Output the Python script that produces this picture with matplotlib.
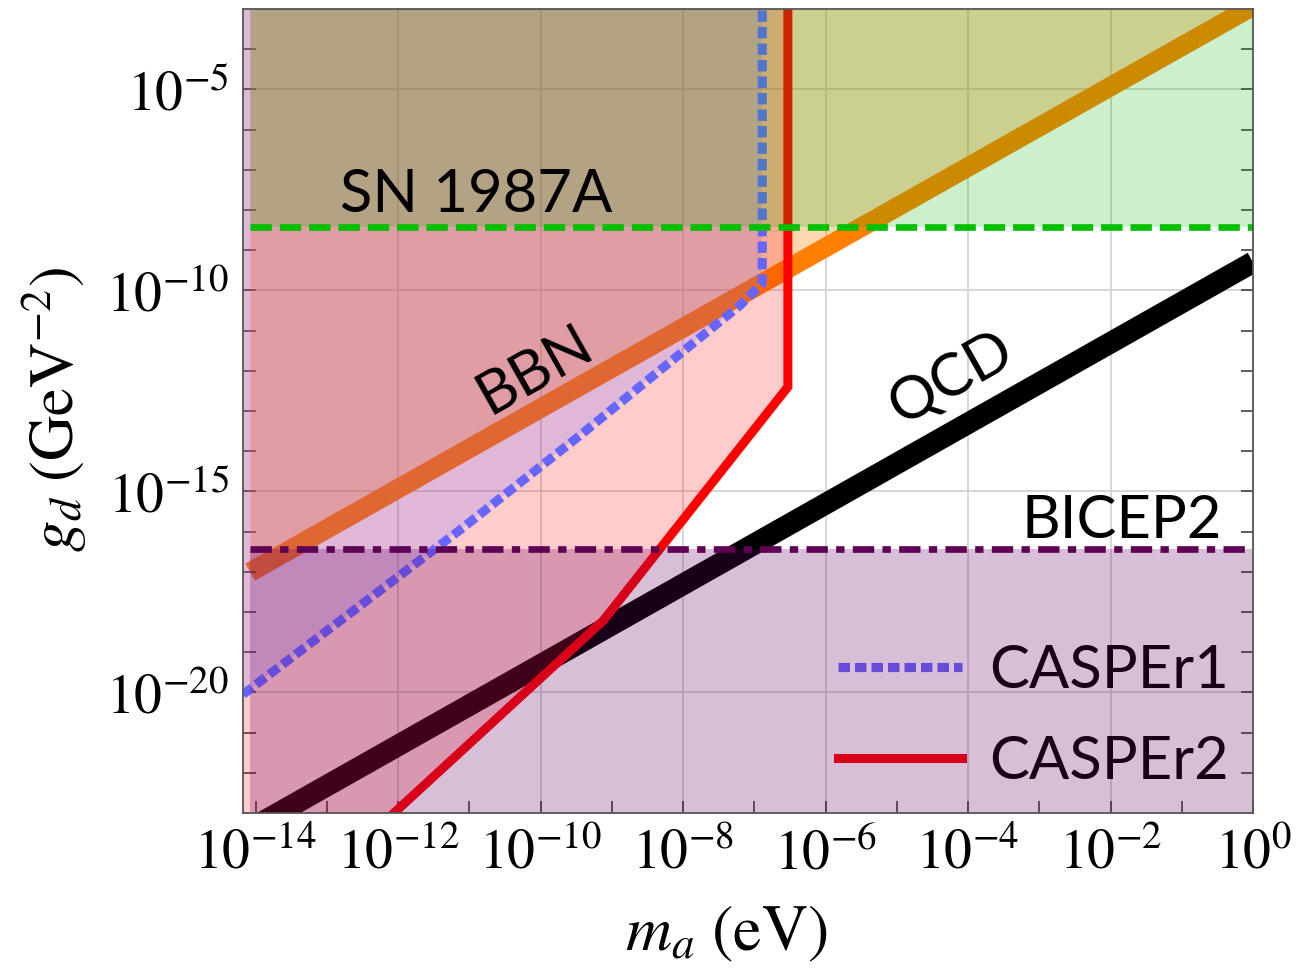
import numpy as np
import matplotlib
matplotlib.use('Agg')
import matplotlib.pyplot as plt
from matplotlib.ticker import FixedLocator, FuncFormatter, NullFormatter

plt.rcParams['mathtext.fontset'] = 'stix'
plt.rcParams['font.family'] = ['Lato', 'DejaVu Sans']

# everything below is in log10 units: m_a in eV, g_d in GeV^-2
m_lo, m_hi = -14.18, 0.0
g_lo, g_hi = -23.0, -3.0
m_start = -14.08          # astrophysical / cosmological bounds start here

bbn_logm = [-14.08, 0.0]
bbn_logg = [-17.01, -2.93]
qcd_logm = [-14.08, 0.0]
qcd_logg = [-23.40, -9.30]
sn_logg = -8.43
bicep_logg = -16.44
casper1_logm = [-14.18, -11.09, -9.45, -7.76, -7.20, -6.89, -6.89]
casper1_logg = [-20.05, -15.90, -13.61, -11.17, -10.37, -9.83, -3.0]
casper2_logm = [-12.06, -9.12, -6.53, -6.53]
casper2_logg = [-23.0, -18.21, -12.40, -3.0]

xticks_major = [-14, -12, -10, -8, -6, -4, -2, 0]
yticks_major = [-20, -15, -10, -5]
grid_x = [-12, -10, -8, -6, -4, -2]
grid_y = [-20, -15, -10, -5]


def p(v):
    return 10.0 ** np.asarray(v, dtype=float)


def pow_label(v, pos):
    return r'$10^{%d}$' % round(np.log10(v))


fig = plt.figure(figsize=(12.96, 9.74), dpi=100)
ax = fig.add_axes([0.1875, 0.1653, 0.7793, 0.8255])
ax.set_xscale('log')
ax.set_yscale('log')
ax.set_xlim(p(m_lo), p(m_hi))
ax.set_ylim(p(g_lo), p(g_hi))

for gx in grid_x:
    ax.axvline(p(gx), color='#d6d6d6', lw=1.4, zorder=0.5)
for gy in grid_y:
    ax.axhline(p(gy), color='#d6d6d6', lw=1.4, zorder=0.5)

# thick theory lines sit under the shaded regions
ax.plot(p(qcd_logm), p(qcd_logg), color='black', lw=15.5, solid_capstyle='butt', zorder=1)
ax.plot(p(bbn_logm), p(bbn_logg), color='#ff8000', lw=14, solid_capstyle='butt', zorder=1)

# excluded / sensitive regions
ax.fill_between(p(bbn_logm), p(bbn_logg), p(g_hi), color='#ff8000', alpha=0.3, lw=0, zorder=2)
c2x = [m_lo] + casper2_logm + [m_lo]
c2y = [g_lo] + casper2_logg + [g_hi]
ax.fill(p(c2x), p(c2y), color='#ff0000', alpha=0.2, lw=0, zorder=2.1)
c1x = casper1_logm + [m_lo]
c1y = casper1_logg + [g_hi]
ax.fill(p(c1x), p(c1y), color='#6666ff', alpha=0.2, lw=0, zorder=2.2)

ax.plot(p(casper1_logm), p(casper1_logg), color='#6666ff', lw=6.6, dashes=(1.25, 0.55),
        zorder=3, label='CASPEr1')
ax.plot(p(casper2_logm), p(casper2_logg), color='#ff0000', lw=6.5, zorder=3,
        solid_joinstyle='miter', label='CASPEr2')

leg = ax.legend(loc='lower right', bbox_to_anchor=(0.976, 0.03), frameon=False, fontsize=43,
                handlelength=2.07, handletextpad=0.45, labelspacing=0.62,
                borderaxespad=0, borderpad=0)
leg.set_zorder(3.5)

xs = p([m_start, m_hi])
ax.fill_between(xs, p(sn_logg), p(g_hi), color='#00b400', alpha=0.2, lw=0, zorder=4)
ax.fill_between(xs, p(g_lo), p(bicep_logg), color='#660066', alpha=0.25, lw=0, zorder=4)
ax.plot(xs, p([sn_logg, sn_logg]), color='#00c000', lw=4.8, dashes=(3.2, 1.2), zorder=5)
ax.plot(xs, p([bicep_logg, bicep_logg]), color='#5e0054', lw=4.8,
        dashes=(3.2, 1.25, 1.25, 1.25), zorder=5)

ax.text(p(-12.82), p(-8.06), 'SN 1987A', fontsize=43, ha='left', va='baseline', zorder=6)
ax.text(p(-10.08), p(-11.99), 'BBN', fontsize=43, rotation=29.4, rotation_mode='anchor',
        ha='center', va='center', zorder=6)
ax.text(p(-4.25), p(-12.19), 'QCD', fontsize=43, rotation=29.4, rotation_mode='anchor',
        ha='center', va='center', zorder=6)
ax.text(p(-0.43), p(-16.17), 'BICEP2', fontsize=43, ha='right', va='baseline', zorder=6)

ax.xaxis.set_major_locator(FixedLocator(p(xticks_major)))
ax.xaxis.set_minor_locator(FixedLocator(p(np.arange(-13, 0, 2))))
ax.yaxis.set_major_locator(FixedLocator(p(yticks_major)))
ax.yaxis.set_minor_locator(FixedLocator(p(np.arange(-22, -3))))
ax.xaxis.set_major_formatter(FuncFormatter(pow_label))
ax.yaxis.set_major_formatter(FuncFormatter(pow_label))
ax.xaxis.set_minor_formatter(NullFormatter())
ax.yaxis.set_minor_formatter(NullFormatter())
ax.tick_params(which='both', direction='in', length=9, width=1.1, color='#333333',
               top=False, right=True, labelsize=40, pad=10)

for s in ax.spines.values():
    s.set_color('#555555')
    s.set_linewidth(1.3)
    s.set_zorder(7)

ax.set_xlabel(r'$m_a\ (\mathrm{eV})$', fontsize=46)
ax.set_ylabel(r'$g_d\ (\mathrm{GeV}^{-2})$', fontsize=45)
ax.xaxis.set_label_coords(0.479, -0.113)
ax.yaxis.set_label_coords(-0.152, 0.502)

fig.savefig('out.png', dpi=100)
